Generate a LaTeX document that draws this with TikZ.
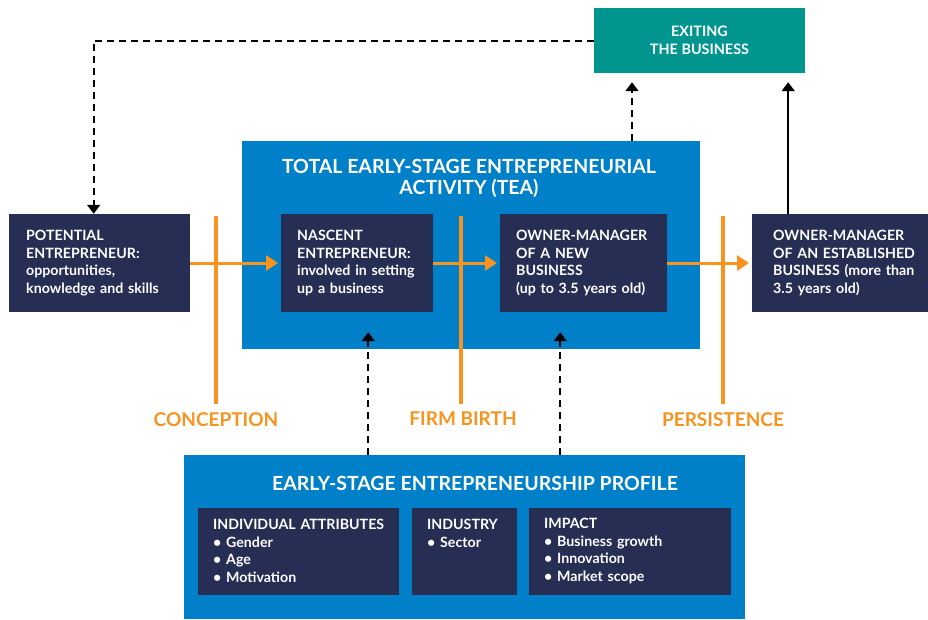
\documentclass[tikz,border=0pt]{standalone}
\usepackage{fontspec}
\setmainfont{Lato}
\usetikzlibrary{arrows.meta}

\definecolor{gemnavy}{HTML}{262E54}
\definecolor{gemblue}{HTML}{0080C8}
\definecolor{gemteal}{HTML}{00968F}
\definecolor{gemorange}{HTML}{F7931E}

\tikzset{
  stagebox/.style={fill=gemnavy, text=white, align=left, inner xsep=17pt, minimum height=98pt,
    font=\bfseries\fontsize{14.2}{17.5}\selectfont},
  panel/.style={fill=gemblue, inner sep=0pt},
  paneltitle/.style={text=white, align=center, inner sep=0pt, font=\bfseries\fontsize{19.5}{21}\selectfont},
  itembox/.style={fill=gemnavy, text=white, align=left, inner xsep=15pt, minimum height=87pt,
    font=\bfseries\fontsize{14.2}{17.5}\selectfont},
  phase/.style={text=gemorange, inner sep=0pt, anchor=north, font=\bfseries\fontsize{19}{20}\selectfont},
  phasebar/.style={draw=gemorange, line width=4pt},
  flow/.style={draw=gemorange, line width=3pt, -{Triangle[length=12pt,width=15pt]}, shorten >=3pt},
  feedback/.style={line width=2pt, dash pattern=on 7pt off 5pt, -{Triangle[length=9pt,width=13pt]}},
}

\begin{document}
\begin{tikzpicture}[x=1pt,y=-1pt]
\useasboundingbox (0,0) rectangle (928,619);

\draw (471,245) node[panel, minimum width=458pt, minimum height=208pt] (tea) {} ;
\draw (469,178) node[paneltitle] (teatitle) {TOTAL EARLY-STAGE ENTREPRENEURIAL\\ACTIVITY (TEA)} ;

\draw (699.5,40.5) node[fill=gemteal, text=white, align=center, minimum width=211pt, minimum height=65pt,
  font=\bfseries\fontsize{14.4}{18}\selectfont] (exit) {EXITING\\THE BUSINESS} ;

\draw (9,263) node[stagebox, anchor=west, text width=147pt] (pot) {POTENTIAL\\ENTREPRENEUR:\\opportunities,\\knowledge and skills} ;
\draw (281,263) node[stagebox, anchor=west, inner xsep=16pt, text width=120pt] (nasc) {NASCENT\\ENTREPRENEUR:\\involved in setting\\up a business} ;
\draw (500,263) node[stagebox, anchor=west, inner xsep=16pt, text width=135pt] (new) {\mbox{OWNER-MANAGER}\\OF A NEW\\BUSINESS\\(up to 3.5 years old)} ;
\draw (752,263) node[stagebox, anchor=west, inner xsep=21pt, text width=160pt] (est) {\mbox{OWNER-MANAGER}\\OF AN ESTABLISHED\\BUSINESS (more than\\3.5 years old)} ;

\draw[flow] (pot) to (nasc) ;
\draw[flow] (nasc) to (new) ;
\draw[flow] (new) to (est) ;

\draw (216,412) node[phase] (conc) {CONCEPTION} ;
\draw (463,412) node[phase] (birth) {FIRM BIRTH} ;
\draw (723,412) node[phase] (pers) {PERSISTENCE} ;
\draw[phasebar] ([yshift=8pt]conc.north) to ([yshift=-2pt]conc.north |- pot.north) ;
\draw[phasebar] ([yshift=8pt,xshift=-2pt]birth.north) to ([yshift=-2pt,xshift=-2pt]birth.north |- pot.north) ;
\draw[phasebar] ([yshift=8pt]pers.north) to ([yshift=-2pt]pers.north |- pot.north) ;

\draw[feedback] (exit.west) -| ([xshift=-6pt]pot.north) ;
\draw[feedback, shorten >=9pt] ([xshift=161pt]tea.north) to ([xshift=161pt]tea.north |- exit.south) ;
\draw[line width=2pt, -{Triangle[length=9pt,width=13pt]}, shorten >=9pt] ([xshift=-65pt]est.north) to ([xshift=-65pt]est.north |- exit.south) ;

\draw (464.5,537) node[panel, minimum width=561pt, minimum height=164pt] (prof) {} ;
\draw (475,483) node[paneltitle] (proftitle) {EARLY-STAGE ENTREPRENEURSHIP PROFILE} ;

\draw (198,551) node[itembox, anchor=west, text width=171pt] (indiv) {INDIVIDUAL ATTRIBUTES\\• Gender\\• Age\\• Motivation} ;
\draw (412,551) node[itembox, anchor=west, text width=75pt] (indus) {INDUSTRY\\• Sector\\~\\~} ;
\draw (529,551) node[itembox, anchor=west, text width=172pt] (impact) {IMPACT\\• Business growth\\• Innovation\\• Market scope} ;

\draw[feedback, shorten >=20pt] ([xshift=11pt]nasc.south |- prof.north) to ([xshift=11pt]nasc.south) ;
\draw[feedback, shorten >=20pt] ([xshift=-23.5pt]new.south |- prof.north) to ([xshift=-23.5pt]new.south) ;

\end{tikzpicture}
\end{document}
